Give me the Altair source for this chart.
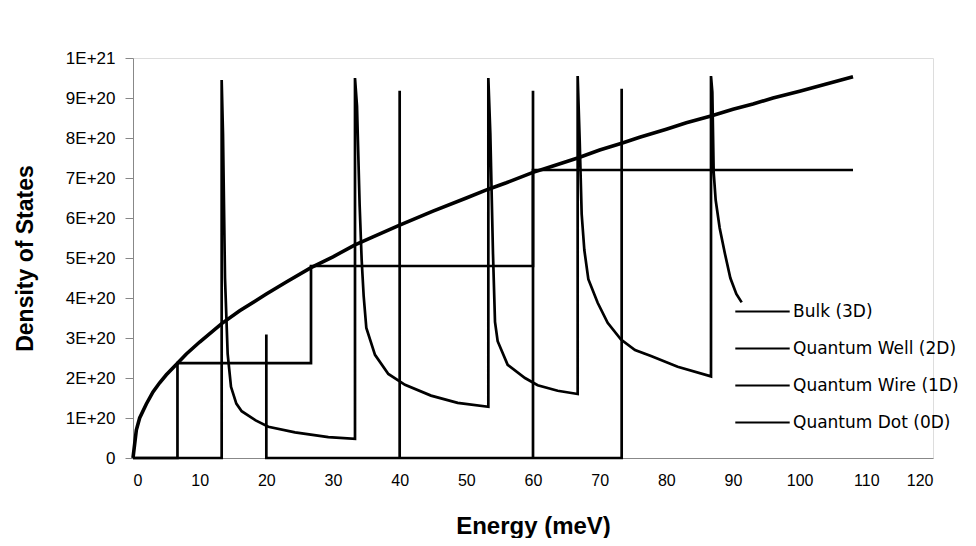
import altair as alt
import pandas as pd

SCALE = 1e20  # values below are in units of 1E+20

SERIES = ["Bulk (3D)", "Quantum Well (2D)", "Quantum Wire (1D)", "Quantum Dot (0D)"]

BULK_E = [0, 0.5, 1, 2, 3, 4, 5, 6.67, 8, 10, 13.3, 16, 20, 23, 26.7, 30, 33.3, 36, 40, 45,
          50, 53.3, 56, 60, 63, 66.7, 70, 73.3, 76, 80, 83, 86.7, 90, 93, 96, 100, 104, 108]
BULK_V = [0, 0.7, 1.0, 1.35, 1.65, 1.88, 2.08, 2.37, 2.6, 2.9, 3.36, 3.68, 4.1, 4.4, 4.76, 5.03,
          5.33, 5.53, 5.82, 6.17, 6.5, 6.72, 6.88, 7.14, 7.3, 7.5, 7.7, 7.87, 8.02, 8.22, 8.38,
          8.55, 8.72, 8.85, 9.0, 9.17, 9.35, 9.53]

WELL_E = [0, 6.67, 6.67, 26.7, 26.7, 60, 60, 108]
WELL_V = [0, 0, 2.37, 2.37, 4.8, 4.8, 7.2, 7.2]

WIRE_E = [0, 13.3, 13.3, 13.5, 13.8, 14.2, 14.7, 15.5, 16.3, 18.4, 20.3, 24.3, 29.3, 33.3,
          33.3, 33.6, 34.0, 34.3, 34.6, 35.0, 36.3, 38.3, 40.8, 44.7, 48.7, 53.3,
          53.3, 53.6, 54.0, 54.3, 54.7, 56.2, 58.8, 60.7, 63.7, 66.7,
          66.7, 67.0, 67.3, 67.7, 68.3, 69.7, 71.2, 73.2, 75.3, 77.7, 81.7, 86.7,
          86.7, 86.9, 87.1, 87.4, 88.0, 88.8, 89.6, 90.5, 91.3]
WIRE_V = [0, 0, 9.45, 8.1, 4.5, 2.6, 1.78, 1.36, 1.17, 0.94, 0.78, 0.64, 0.52, 0.48,
          9.5, 8.8, 6.3, 4.95, 4.05, 3.25, 2.58, 2.1, 1.83, 1.56, 1.38, 1.28,
          9.5, 8.1, 5.1, 3.4, 2.92, 2.33, 2.0, 1.82, 1.68, 1.6,
          9.55, 7.95, 6.1, 5.2, 4.47, 3.88, 3.38, 2.96, 2.7, 2.55, 2.28, 2.04,
          9.55, 9.15, 7.15, 6.45, 5.75, 5.1, 4.5, 4.1, 3.89]

DOT_E = [20, 20, 20, 40, 40, 40, 60, 60, 60, 73.3, 73.3, 73.3]
DOT_V = [0, 3.09, 0, 0, 9.18, 0, 0, 9.18, 0, 0, 9.23, 0]

X_TICKS = [0, 10, 20, 30, 40, 50, 60, 70, 80, 90, 100, 110, 120]
Y_TICKS = [0, 1, 2, 3, 4, 5, 6, 7, 8, 9, 10]

rows = []
for name, es, vs in zip(SERIES, [BULK_E, WELL_E, WIRE_E, DOT_E], [BULK_V, WELL_V, WIRE_V, DOT_V]):
    for i, (e, v) in enumerate(zip(es, vs)):
        rows.append({"series": name, "energy": e, "dos": v * SCALE, "i": i})
df = pd.DataFrame(rows)

FONT = "DejaVu Sans"

x_enc = alt.X("energy:Q",
              scale=alt.Scale(domain=[0, 120], nice=False, zero=False),
              axis=alt.Axis(values=X_TICKS, title="Energy (meV)", ticks=False, grid=False,
                            labelPadding=14, titlePadding=26, labelFontSize=16,
                            titleFontSize=24, titleFontWeight="bold"))
y_enc = alt.Y("dos:Q",
              scale=alt.Scale(domain=[0, 1e21], nice=False),
              axis=alt.Axis(values=[t * SCALE for t in Y_TICKS], title="Density of States",
                            grid=False, tickSize=8, labelPadding=10, titlePadding=28,
                            labelFontSize=17, titleFontSize=23, titleFontWeight="bold",
                            labelExpr="datum.value == 0 ? '0' : (datum.value >= 9.99e20 ? '1E+21' : round(datum.value / 1e20) + 'E+20')"))
c_enc = alt.Color("series:N",
                  scale=alt.Scale(domain=SERIES, range=["black"] * 4),
                  legend=alt.Legend(title=None, orient="none", legendX=601, legendY=235,
                                    symbolType="M-1.6,0H1.6", symbolSize=1156,
                                    symbolStrokeWidth=2.2, symbolStrokeColor="black",
                                    symbolOffset=10, labelOffset=12, labelLimit=0,
                                    labelFont=FONT, labelFontSize=17, labelColor="black",
                                    rowPadding=10))

base = alt.Chart(df).encode(x=x_enc, y=y_enc, color=c_enc, order="i:Q")

others = base.mark_line(strokeCap="butt", strokeWidth=2.7).transform_filter(
    alt.datum.series != SERIES[0])
bulk = base.mark_line(strokeCap="butt", strokeWidth=3.6).transform_filter(
    alt.datum.series == SERIES[0])

chart = alt.layer(others, bulk).properties(
    width=800, height=400,
    autosize=alt.AutoSizeParams(type="none"),
    padding={"left": 125, "top": 50, "right": 35, "bottom": 80},
).configure_view(strokeWidth=0).configure_axis(
    labelFont=FONT, titleFont=FONT, labelColor="black", titleColor="black",
    domainColor="black", domainWidth=2, tickColor="black", tickWidth=2,
).configure_legend(symbolStrokeWidth=2.2).configure(background="white")

chart.save("out.html", embed_options={"renderer": "svg", "actions": False})
